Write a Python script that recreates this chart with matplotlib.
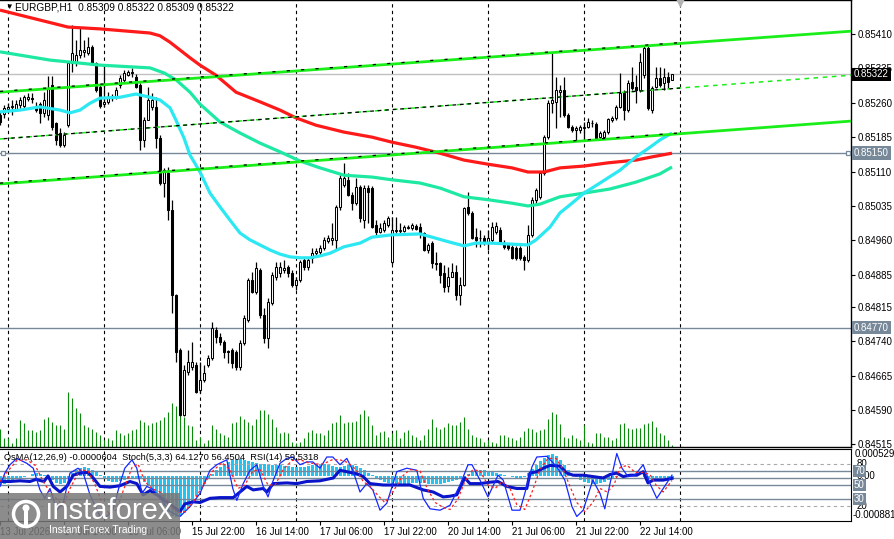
import numpy as np
import pandas as pd
import matplotlib
matplotlib.use("Agg")
import matplotlib.pyplot as plt
import matplotlib.transforms as mtransforms
from matplotlib.patches import Rectangle, Circle

plt.rcParams['font.family'] = ['Liberation Sans', 'DejaVu Sans']

# EURGBP H1 bars from 13 Jul 2026 22:00, prices in points (1e-5)
opens = [
    85233, 85235, 85246, 85251, 85246, 85255, 85253, 85268, 85270, 85253,
    85257, 85238, 85233, 85299, 85216, 85194, 85168, 85211, 85347, 85349,
    85364, 85371, 85368, 85381, 85347, 85294, 85257, 85262, 85270, 85272,
    85299, 85310, 85320, 85325, 85316, 85299, 85179, 85222, 85251, 85251,
    85183, 85085, 85107, 85026, 84841, 84721, 84579, 84673, 84684, 84688,
    84634, 84656, 84688, 84704, 84765, 84749, 84738, 84719, 84721, 84717,
    84684, 84736, 84786, 84874, 84847, 84895, 84797, 84747, 84823, 84880,
    84889, 84895, 84902, 84889, 84863, 84874, 84917, 84902, 84922, 84932,
    84935, 84943, 84959, 84961, 84961, 85033, 85081, 85092, 85059, 85041,
    85076, 85004, 85074, 85074, 84993, 84978, 84983, 84993, 84913, 84980,
    84980, 84980, 84987, 84987, 84991, 84989, 84976, 84939, 84954, 84911,
    84911, 84889, 84860, 84880, 84891, 84841, 84863, 85033, 85020, 84967,
    84965, 84965, 84954, 84961, 84978, 84983, 84954, 84950, 84946, 84943,
    84943, 84924, 84917, 84972, 85048, 85054, 85107, 85185, 85259, 85262,
    85283, 85288, 85233, 85207, 85201, 85201, 85205, 85207, 85216, 85214,
    85185, 85185, 85196, 85222, 85227, 85251, 85281, 85244, 85305, 85294,
    85288, 85320, 85379, 85244, 85294, 85314, 85303, 85316, 85309]
highs = [
    85240, 85255, 85259, 85266, 85266, 85272, 85277, 85281, 85281, 85262,
    85262, 85283, 85318, 85318, 85218, 85205, 85196, 85349, 85430, 85397,
    85423, 85397, 85403, 85386, 85349, 85299, 85342, 85283, 85279, 85294,
    85320, 85331, 85331, 85336, 85323, 85303, 85229, 85294, 85281, 85272,
    85190, 85118, 85120, 85048, 84843, 84725, 84688, 84721, 84738, 84695,
    84695, 84688, 84710, 84782, 84771, 84758, 84743, 84721, 84725, 84721,
    84743, 84797, 84878, 84891, 84913, 84900, 84813, 84834, 84891, 84913,
    84913, 84917, 84906, 84895, 84880, 84917, 84922, 84924, 84943, 84943,
    84950, 84967, 84972, 84998, 85037, 85102, 85129, 85107, 85065, 85096,
    85081, 85081, 85081, 85078, 85004, 84998, 85004, 85013, 85011, 85011,
    84998, 84993, 84993, 84998, 84996, 84998, 84978, 84954, 84959, 84935,
    84913, 84906, 84902, 84911, 84906, 84880, 85033, 85065, 85024, 84987,
    84983, 84972, 84983, 85000, 85000, 84989, 84961, 84954, 84950, 84948,
    84948, 84928, 84993, 85054, 85074, 85109, 85190, 85266, 85368, 85316,
    85299, 85316, 85238, 85211, 85209, 85211, 85218, 85227, 85222, 85218,
    85198, 85201, 85227, 85231, 85255, 85325, 85288, 85310, 85338, 85320,
    85368, 85384, 85384, 85296, 85338, 85338, 85336, 85327, 85322]
lows = [
    85211, 85227, 85240, 85233, 85242, 85249, 85249, 85264, 85259, 85240,
    85216, 85229, 85222, 85201, 85168, 85163, 85163, 85207, 85327, 85340,
    85358, 85360, 85364, 85344, 85283, 85249, 85251, 85257, 85264, 85268,
    85292, 85305, 85318, 85316, 85292, 85157, 85163, 85222, 85244, 85161,
    85081, 85054, 85004, 84802, 84695, 84577, 84577, 84667, 84677, 84627,
    84627, 84651, 84684, 84699, 84736, 84732, 84704, 84693, 84682, 84677,
    84677, 84732, 84782, 84845, 84843, 84791, 84736, 84725, 84819, 84874,
    84880, 84889, 84880, 84858, 84852, 84869, 84895, 84895, 84911, 84926,
    84928, 84939, 84954, 84950, 84939, 85026, 85076, 85057, 85026, 85037,
    85000, 84987, 84998, 84987, 84972, 84976, 84978, 84989, 84908, 84976,
    84976, 84978, 84985, 84983, 84983, 84965, 84937, 84932, 84900, 84895,
    84867, 84847, 84847, 84880, 84830, 84819, 84860, 85015, 84963, 84946,
    84946, 84950, 84939, 84956, 84974, 84954, 84941, 84939, 84919, 84917,
    84917, 84895, 84913, 84967, 85037, 85050, 85102, 85181, 85238, 85205,
    85229, 85229, 85205, 85196, 85179, 85194, 85179, 85205, 85207, 85181,
    85181, 85183, 85192, 85218, 85222, 85249, 85222, 85240, 85288, 85259,
    85283, 85314, 85244, 85238, 85292, 85294, 85288, 85292, 85309]
closes = [
    85218, 85249, 85251, 85253, 85257, 85266, 85272, 85272, 85268, 85244,
    85238, 85266, 85290, 85207, 85179, 85168, 85190, 85347, 85368, 85364,
    85375, 85375, 85381, 85347, 85288, 85253, 85262, 85272, 85272, 85288,
    85314, 85325, 85327, 85327, 85294, 85179, 85222, 85266, 85266, 85183,
    85085, 85113, 85026, 84841, 84717, 84579, 84677, 84695, 84695, 84629,
    84656, 84671, 84704, 84769, 84749, 84738, 84717, 84717, 84693, 84684,
    84736, 84791, 84874, 84847, 84900, 84797, 84747, 84826, 84884, 84902,
    84902, 84900, 84889, 84863, 84874, 84913, 84902, 84917, 84932, 84937,
    84943, 84961, 84965, 84965, 85033, 85096, 85096, 85059, 85041, 85076,
    85009, 85074, 85065, 84989, 84978, 84987, 84998, 85009, 84983, 84983,
    84983, 84989, 84989, 84993, 84985, 84976, 84939, 84950, 84911, 84908,
    84884, 84858, 84880, 84891, 84841, 84863, 85031, 85020, 84965, 84961,
    84965, 84956, 84965, 84989, 84991, 84956, 84946, 84943, 84922, 84922,
    84922, 84917, 84972, 85048, 85070, 85107, 85185, 85259, 85266, 85288,
    85288, 85233, 85207, 85201, 85205, 85207, 85207, 85218, 85216, 85183,
    85194, 85196, 85225, 85227, 85251, 85281, 85244, 85303, 85292, 85288,
    85349, 85379, 85249, 85292, 85314, 85299, 85316, 85305, 85322]
tick_volume = [
    720, 360, 360, 160, 360, 1080, 960, 680, 680, 600, 680, 1120, 1200, 1000, 880,
    880, 720, 2200, 1960, 1560, 1360, 880, 800, 720, 600, 480, 280, 360, 280, 680,
    560, 480, 560, 680, 720, 1080, 1000, 880, 960, 1000, 1080, 1200, 1400, 1760,
    1640, 1400, 1200, 880, 840, 280, 400, 160, 280, 880, 720, 560, 480, 400, 960,
    1000, 1240, 1120, 1000, 880, 1120, 1480, 1480, 1320, 1120, 800, 560, 600, 560,
    200, 160, 200, 360, 600, 680, 560, 560, 480, 680, 960, 1000, 1280,
    960, 1000, 1000, 1040, 1320, 1480, 1240, 880, 480, 600, 640, 400, 560, 680, 360,
    600, 680, 480, 400, 280, 480, 720, 1120, 800, 720, 800, 960, 880, 880, 1000,
    1200, 720, 480, 400, 360, 200, 280, 200, 160, 480, 480, 400, 360,
    280, 400, 640, 760, 720, 600, 680, 720, 1120, 1400, 1320, 920, 400, 360, 480,
    360, 280, 880, 200, 160, 560, 560, 400, 400, 280, 360, 920, 960, 760, 720,
    760, 760, 920, 960, 1040, 800, 560, 480, 280, 80]

# moving averages (bar index, price in points)
red_bars = [0, 17, 25, 37.5, 40, 42.5, 45, 47.5, 50, 54, 59, 65, 70, 74, 79, 86, 93, 98,
            104, 110, 116, 122, 128, 132, 136, 140, 146, 152, 159, 163, 168]
red_vals = [85462, 85425, 85421, 85412, 85406, 85392, 85375, 85358, 85342, 85320, 85283,
            85262, 85244, 85227, 85211, 85196, 85185, 85174, 85163, 85150, 85135, 85126,
            85118, 85109, 85109, 85118, 85122, 85129, 85135, 85142, 85150]
teal_bars = [0, 12.5, 25, 37.5, 41, 44, 47.5, 50, 55, 60, 65, 70, 75, 80, 86, 93, 98, 105,
             110, 116, 122.5, 128, 132, 135, 140, 146, 152.5, 159, 165, 168]
teal_vals = [85371, 85353, 85342, 85336, 85325, 85310, 85283, 85257, 85218, 85194, 85172,
             85153, 85133, 85118, 85102, 85098, 85092, 85085, 85074, 85055, 85048, 85041,
             85035, 85039, 85055, 85063, 85072, 85087, 85105, 85120]
cyan_bars = [0, 5, 10, 15, 17.5, 20, 22.5, 25, 30, 34, 37.5, 40, 42.5, 44, 46, 47.5, 50,
             52.5, 55, 57.5, 60, 62.5, 65, 67.5, 70, 72.5, 75, 77.5, 80, 82.5, 86, 90, 93,
             98, 105, 108, 112.5, 116, 119, 122.5, 127.5, 132, 134, 137.5, 140, 143, 146,
             150, 155, 159, 162.5, 165, 168]
cyan_vals = [85240, 85244, 85251, 85244, 85238, 85244, 85259, 85270, 85272, 85279, 85272,
             85266, 85249, 85222, 85183, 85146, 85109, 85063, 85033, 85004, 84976, 84961,
             84950, 84939, 84930, 84924, 84922, 84922, 84926, 84932, 84946, 84954, 84967,
             84972, 84974, 84967, 84956, 84948, 84954, 84954, 84952, 84950, 84961, 84989,
             85020, 85041, 85063, 85085, 85113, 85142, 85163, 85179, 85194]

# channel lines: price at the first bar and at the right edge of the chart
channel_ends = [0, 212.75]
chan_top = [85283, 85416]
chan_mid = [85181, 85320]
chan_low = [85083, 85220]
levels = [85150, 84770]
price_ticks = [85410, 85335, 85260, 85185, 85110, 85035, 84960, 84885, 84815,
               84740, 84665, 84590, 84515]

# indicators
osma_e5 = [
    -18, -16, -12, -8, -6, -4, -2, 0, 4, 6, 4, 2, -2, -8, -14, -16, -14,
    -4, 6, 12, 16, 18, 16, 12, 8, 2, -6, -10, -12, -12, -10, -8, -6, -4,
    -4, -6, -12, -20, -28, -36, -48, -60, -72, -80, -82, -80, -74, -64,
    -52, -40, -28, -16, -6, 4, 12, 18, 24, 28, 32, 34, 34, 32, 30,
    28, 26, 24, 24, 22, 22, 22, 22, 20, 20, 18, 18, 18, 18, 20, 22, 24, 24, 24, 22, 20, 18,
    18, 20, 22, 22, 20, 16, 12, 6, 2, -4, -8,
    -12, -14, -16, -16, -16, -16, -16, -14, -14, -14, -14, -16, -16, -16, -16, -14, -12, -10, -8, -6,
    -2, 4, 8, 12, 12, 12, 10, 8, 6, 4, 2, 0, -2, -4, -4, -2,
    6, 14, 22, 30, 36, 42, 44, 40, 32, 22, 12, 4, -2, -8, -12, -14,
    -16, -16, -14, -12, -8, -4, -2, 0, 2, 4, 4, 2, 0,
    -2, -4, -6, -6, -6, -6, -4, -6]
rsi_bars = [0, 2.5, 5, 7.5, 9, 11, 12, 13.3, 15, 16.7, 18.3, 20, 22, 23.3, 25, 27.5, 30,
            32.5, 34.2, 35.8, 37.5, 39.2, 41.7, 43.3, 45, 46.2, 48.3, 50, 52.5, 55, 58.3,
            60, 61.7, 63.3, 65.8, 66.7, 68.3, 71.7, 74.2, 76.7, 80, 83.3, 85, 86.7, 89.2,
            90.8, 92.5, 95.8, 99.2, 102.5, 105.8, 108.3, 110.8, 112.5, 114.2, 115.5, 116.2,
            117.5, 120, 122.5, 124.5, 126.7, 129.2, 131.7, 132.5, 134.2, 135.8, 137.5, 140,
            141.7, 143.3, 145.8, 148.3, 150.8, 152.5, 154.2, 155.8, 157.5, 159.2, 160.8,
            162, 163.3, 165.8, 168]
rsi_vals = [55, 55, 56, 55, 58, 55, 63, 48, 40, 48, 64, 67, 68, 60, 48, 47, 49, 55, 52, 36,
            42, 36, 26, 19, 12, 23, 26, 25, 31, 32, 32, 40, 48, 43, 45, 40, 52, 53, 52, 55,
            56, 60, 71, 69, 66, 62, 52, 50, 50, 50, 43, 40, 33, 34, 36, 52, 60, 52, 52, 54,
            55, 48, 45, 45, 67, 69, 74, 78, 77, 67, 64, 64, 62, 60, 65, 67, 62, 64, 64, 69,
            53, 57, 57, 59.5]
k_bars = [0, 1.2, 2.5, 4.2, 6.7, 8.3, 10, 11.2, 12.5, 14.2, 15.8, 17.5, 19.5, 20.8, 22.5,
          25, 26.7, 28.2, 30, 31.2, 33, 34.2, 35.5, 36.7, 38.2, 40, 42.5, 45, 47.5, 50,
          52.5, 54.2, 56.7, 58.2, 59.2, 60.8, 62.5, 64.2, 65.8, 67, 68.2, 70, 71.7, 73.2,
          75, 76.7, 78.2, 80, 81.7, 83.2, 85, 86.7, 88.2, 90, 91.7, 93.2, 95, 96.7, 99.2,
          101.7, 104.2, 105.8, 107.5, 110, 112.5, 115, 117, 118, 120, 122, 124.5, 125.8,
          128, 130, 131.2, 133, 134.2, 136.7, 139.2, 141.2, 143, 144.2, 145.8, 148.2, 150,
          151.2, 152.5, 154.2, 155.5, 157, 158.7, 160.8, 162.5, 164.2, 165.8, 168]
k_vals = [48, 67, 79, 88, 81, 74, 43, 31, 45, 14, 24, 67, 74, 67, 36, 5, 5, 14, 52, 74,
          86, 74, 38, 48, 44, 31, 12, 5, 19, 38, 71, 79, 86, 45, 28, 52, 71, 79, 48, 33,
          55, 81, 88, 90, 79, 83, 83, 74, 90, 90, 79, 88, 71, 40, 52, 43, 14, 24, 69, 74,
          71, 31, 16, 14, 21, 50, 79, 79, 57, 33, 64, 57, 14, 14, 38, 76, 90, 91, 76, 57,
          19, 5, 14, 57, 38, 16, 52, 95, 74, 62, 64, 79, 52, 31, 45, 64.1]
d_bars = [0, 2, 4.2, 6.7, 8.8, 10.8, 12.5, 14.2, 15.8, 17.5, 20, 22, 23.8, 25.8, 27.5,
          29.2, 31, 33, 34.5, 36.2, 38, 40, 42, 44.2, 46.2, 48.2, 50.8, 53.2, 55.5, 57.5,
          59.5, 61.2, 63.2, 65, 67, 68.8, 70.8, 73, 75, 77, 79, 80.8, 83, 85, 87, 89, 90.8,
          92.5, 94.5, 96.2, 98.2, 100.5, 102.5, 105, 106.8, 108.8, 110.8, 112.5, 114.5,
          116.2, 118.2, 120, 122, 123.8, 125.5, 127.5, 129.2, 131.2, 133, 135, 137, 139,
          140.8, 142.5, 144.2, 146.2, 148.2, 150, 151.8, 153.5, 155, 156.8, 158.8, 160.8,
          162.5, 164, 165.8, 168]
d_vals = [55, 70, 85, 86, 78, 55, 40, 30, 20, 45, 72, 70, 50, 20, 8, 15, 45, 75, 80, 55,
          45, 40, 25, 10, 12, 25, 50, 70, 82, 72, 45, 50, 70, 72, 50, 50, 72, 85, 86, 82,
          80, 80, 86, 86, 82, 72, 55, 48, 35, 25, 40, 62, 72, 70, 45, 25, 18, 15, 30, 55,
          72, 70, 50, 45, 55, 45, 22, 15, 40, 72, 88, 88, 72, 48, 25, 12, 25, 45, 40, 50,
          75, 78, 68, 68, 65, 50, 40, 56.5]

o = np.array(opens) / 1e5
h = np.array(highs) / 1e5
l = np.array(lows) / 1e5
c = np.array(closes) / 1e5
x = np.arange(len(c))

# hourly trading bars (no weekend)
hours = pd.date_range('2026-07-13 22:00', '2026-07-24 23:00', freq='h')
hours = hours[hours.dayofweek < 5]
XMAX = 212.75
# day separators up to the next day's open after the last bar
sep_bars = [i for i, t in enumerate(hours[:len(c) + 2]) if t.hour == 0]
lab_bars = list(range(0, len(c), 16))
lab_text = [hours[i].strftime('%d %b %Y') if i == 0 else hours[i].strftime('%d %b %H:%M')
            for i in lab_bars]

W, H = 894.0, 539.0
fig = plt.figure(figsize=(W / 100, H / 100), dpi=100)
ax = fig.add_axes([0, 1 - 447 / H, 851 / W, 447 / H])
ax2 = fig.add_axes([0, 1 - 521 / H, 851 / W, 72 / H])
FS = 7

# ---- main window ----
ax.set_xlim(0, XMAX)
ax.set_ylim(0.845095, 0.85484)
for b in sep_bars:
    ax.axvline(b, color='black', lw=0.8, ls=(0, (3, 3)), zorder=1)
    ax2.axvline(b, color='black', lw=0.8, ls=(0, (3, 3)), zorder=1)

ax.axhline(c[-1], color='#C0C0C0', lw=1, zorder=2)
for lv in levels:
    ax.axhline(lv / 1e5, color='#778899', lw=1, zorder=2)
ax.plot([0.75, XMAX - 0.75], [levels[0] / 1e5] * 2, ls='none', marker='s', ms=3.5,
        mfc='white', mec='#778899', mew=0.9, zorder=3)

ax.vlines(x, 0, np.array(tick_volume) / 17880.0, transform=ax.get_xaxis_transform(),
          color='#0A8A0A', lw=0.8, zorder=2)

ax.vlines(x, l, h, color='black', lw=0.9, zorder=4)
up = c >= o
bot = np.minimum(o, c)
hgt = np.maximum(np.abs(c - o), 0.000004)
ax.bar(x[up], hgt[up], bottom=bot[up], width=0.5, color='white', edgecolor='black',
       linewidth=0.75, zorder=5)
ax.bar(x[~up], hgt[~up], bottom=bot[~up], width=0.5, color='black', edgecolor='black',
       linewidth=0.75, zorder=5)

ax.plot(red_bars, np.array(red_vals) / 1e5, color='#FF1A1A', lw=2.3, zorder=6,
        solid_capstyle='butt')
ax.plot(teal_bars, np.array(teal_vals) / 1e5, color='#1DE9A2', lw=2.3, zorder=6,
        solid_capstyle='butt')
ax.plot(cyan_bars, np.array(cyan_vals) / 1e5, color='#2BE8F2', lw=2.3, zorder=6,
        solid_capstyle='butt')

green = '#19EE19'
ax.plot(channel_ends, np.array(chan_top) / 1e5, color=green, lw=2.0, zorder=7)
ax.plot(channel_ends, np.array(chan_low) / 1e5, color=green, lw=2.0, zorder=7)
ax.plot(channel_ends, np.array(chan_mid) / 1e5, color=green, lw=1.1, ls=(0, (3, 3)), zorder=7)
last_b = sep_bars[-1]
for line, off, dash in ((chan_top, 0.000018, (0, (2.5, 9))), (chan_low, 0.000018, (0, (2.5, 9))),
                        (chan_mid, 0.0, (3, (3, 3)))):
    yv = np.interp([0, last_b], channel_ends, np.array(line) / 1e5) + off
    ax.plot([0, last_b], yv, color='black', lw=0.9, ls=dash, zorder=8)

ax.plot([last_b], [0.85484 - 0.00005], marker='v', ms=6, color='#B4B4B4', ls='none',
        zorder=9, clip_on=False)

ax.set_xticks([])
ax.yaxis.tick_right()
ax.set_yticks(np.array(price_ticks) / 1e5)
ax.set_yticklabels(['%.5f' % (v / 1e5) for v in price_ticks])
ax.tick_params(axis='y', direction='out', length=3, pad=2, labelsize=FS, colors='black')
ax.spines['left'].set_visible(False)
for s in ('top', 'right', 'bottom'):
    ax.spines[s].set_linewidth(1)

tr = mtransforms.blended_transform_factory(ax.transAxes, ax.transData)
ax.text(1 + 3 / 851, c[-1], '%.5f' % c[-1], transform=tr, fontsize=FS, color='white',
        va='center', ha='left', zorder=10,
        bbox=dict(boxstyle='square,pad=0.18', fc='black', ec='none'))
for lv in levels:
    ax.text(1 + 3 / 851, lv / 1e5, '%.5f' % (lv / 1e5), transform=tr, fontsize=FS,
            color='white', va='center', ha='left', zorder=10,
            bbox=dict(boxstyle='square,pad=0.18', fc='#778899', ec='none'))

fig.text(5 / W, 1 - 7 / H, '\u25bc', fontsize=5.5, va='center', ha='left')
fig.text(15 / W, 1 - 8 / H, 'EURGBP,H1  %.5f %.5f %.5f %.5f' % (o[-1], h[-1], l[-1], c[-1]),
         fontsize=FS + 0.3, va='center', ha='left')

# ---- indicator window ----
ax2.set_xlim(0, XMAX)
ax2.set_ylim(-0.000901, 0.000549)
ax2.bar(x, np.array(osma_e5) * 1e-5, width=0.75, color='#22C4F4', zorder=2)
ax2.set_yticks([])
ax2.set_xticks(lab_bars)
ax2.set_xticklabels(lab_text)
for t in ax2.get_xticklabels():
    t.set_ha('left')
ax2.tick_params(axis='x', direction='out', length=3, pad=1.5, labelsize=FS)
ax2.spines['left'].set_visible(False)

ax3 = ax2.twinx()
ax3.set_ylim(-1.43, 101.43)
ax3.axis('off')
for lv in (80, 20):
    ax3.axhline(lv, color='#A8A8A8', lw=0.8, ls=(0, (3, 3)), zorder=1)
for lv in (70, 60, 50, 30):
    ax3.axhline(lv, color='#778899', lw=1, zorder=1)
ax3.plot(rsi_bars, rsi_vals, color='#0A14C8', lw=2.2, zorder=4)
ax3.plot(k_bars, k_vals, color='#1428FF', lw=0.9, zorder=5)
ax3.plot(d_bars, d_vals, color='#FF2020', lw=0.9, ls=(0, (2, 2)), zorder=5)

tr3 = mtransforms.blended_transform_factory(ax3.transAxes, ax3.transData)
tr2 = mtransforms.blended_transform_factory(ax2.transAxes, ax2.transData)
ax2.text(1 + 4 / 851, 1.0, '0.000529', transform=ax2.transAxes, fontsize=FS, va='top', ha='left')
ax2.text(1 + 6 / 851, 0.0, '0.00', transform=tr2, fontsize=FS, va='center', ha='left')
ax2.text(1 + 2 / 851, 0.09, '-0.000881', transform=ax2.transAxes, fontsize=FS, va='center',
         ha='left')
for lv in (80, 20):
    ax3.text(1 + 6 / 851, lv, str(lv), transform=tr3, fontsize=FS, va='center', ha='left')
for lv in (70, 50, 30):
    ax3.text(1 + 3 / 851, lv, str(lv), transform=tr3, fontsize=FS, va='center', ha='left',
             color='white', bbox=dict(boxstyle='square,pad=0.15', fc='#778899', ec='none'))

fig.text(4 / W, 1 - 458 / H,
         'OsMA(12,26,9) -0.0000604  Stoch(5,3,3) 64.1270 56.4504  RSI(14) 59.5318',
         fontsize=FS - 0.3, va='center', ha='left')

# ---- watermark ----
fig.add_artist(Rectangle((0, 0), 180 / W, 46 / H, transform=fig.transFigure,
                         facecolor='#787878', alpha=0.85, edgecolor='none', zorder=20))
fig.add_artist(Circle((0.26, 0.25), 0.125, transform=fig.dpi_scale_trans, fill=False,
                      edgecolor='white', lw=2.5, zorder=21))
fig.add_artist(Circle((0.26, 0.31), 0.035, transform=fig.dpi_scale_trans,
                      facecolor='white', edgecolor='none', zorder=21))
fig.add_artist(Rectangle((0.24, 0.13), 0.04, 0.15, transform=fig.dpi_scale_trans,
                         facecolor='white', edgecolor='none', zorder=21))
fig.text(46 / W, 1 - 511 / H, 'instaforex', fontsize=21, color='white', va='center',
         ha='left', zorder=22)
fig.text(49 / W, 1 - 530 / H, 'Instant Forex Trading', fontsize=7.5, color='white',
         va='center', ha='left', zorder=22)

fig.savefig('out.png', dpi=100)
